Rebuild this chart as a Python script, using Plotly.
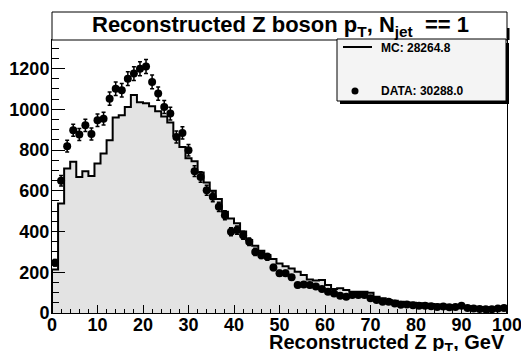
import numpy as np
import plotly.graph_objects as go

# Histogram binning (GeV)
X_MIN, X_MAX, N_BINS = 0.0, 100.0, 75

# Simulated Z pT spectrum (events per bin)
mc_counts = [214, 538, 709, 742, 668, 696, 672, 734, 783, 848, 959, 971, 1011, 1070,
             1035, 1030, 1015, 990, 965, 935, 870, 815, 760, 745, 690, 640, 600, 560,
             497, 464, 440, 400, 358, 330, 305, 285, 265, 243, 230, 219, 203, 186,
             165, 160, 162, 137, 118, 121, 113, 104, 104, 104, 99, 80, 72, 64, 60, 55,
             52, 50, 48, 46, 44, 42, 40, 38, 36, 35, 33, 31, 30, 28, 27, 26, 25]

# Observed Z pT spectrum (events per bin)
data_counts = [247, 649, 819, 897, 876, 921, 879, 946, 954, 1052, 1101, 1093, 1150, 1175,
               1199, 1210, 1134, 1077, 1011, 979, 864, 884, 799, 696, 668, 603, 570, 521,
               480, 399, 407, 382, 350, 300, 284, 276, 223, 195, 195, 175, 137, 140,
               137, 130, 118, 104, 96, 85, 80, 88, 88, 88, 72, 64, 55, 55, 47,
               40, 42, 38, 36, 35, 33, 30, 32, 28, 30, 36, 25, 22, 20, 18, 19, 22, 25]

legend_labels = ["MC: 28264.8", "DATA: 30288.0"]
x_ticks = [0, 10, 20, 30, 40, 50, 60, 70, 80, 90, 100]
y_ticks = [0, 200, 400, 600, 800, 1000, 1200]

title_text = "Reconstructed Z boson p<sub>T</sub>, N<sub>jet</sub>  == 1"
x_title = "Reconstructed Z p<sub>T</sub>, GeV"

FONT = "Liberation Sans, Arial, Helvetica, sans-serif"

# canvas geometry (pixels)
W, H = 521, 351
L, R, T, B = 52, 507, 40, 313


def px_x(px):
    return (px - L) / (R - L)


def px_y(py):
    return (B - py) / (B - T)


edges = np.linspace(X_MIN, X_MAX, N_BINS + 1)
centers = 0.5 * (edges[:-1] + edges[1:])
mc = np.asarray(mc_counts, dtype=float)
dat = np.asarray(data_counts, dtype=float)

# step outline closed down to the baseline at both ends
step_x = np.concatenate([[edges[0]], edges])
step_y = np.concatenate([[0.0], mc, [0.0]])

fig = go.Figure()
fig.add_trace(go.Scatter(
    x=step_x, y=step_y, mode="lines", line=dict(shape="hv", color="black", width=2),
    fill="tozeroy", fillcolor="#e3e3e3", showlegend=False, hoverinfo="skip"))
fig.add_trace(go.Scatter(
    x=centers, y=dat, mode="markers",
    marker=dict(symbol="circle", size=8, color="black"),
    error_y=dict(type="sqrt", color="black", thickness=1.5, width=2),
    showlegend=False))

shapes = []
annotations = []

# title box
shapes.append(dict(type="rect", xref="paper", yref="paper", layer="above",
                   x0=px_x(506.5), x1=px_x(509.5), y0=px_y(40), y1=px_y(28),
                   fillcolor="black", line=dict(width=0)))
shapes.append(dict(type="rect", xref="paper", yref="paper", layer="above",
                   x0=px_x(52), x1=px_x(507), y0=px_y(40), y1=px_y(12),
                   fillcolor="white", line=dict(color="black", width=1)))
annotations.append(dict(xref="paper", yref="paper", x=px_x(280), y=px_y(26),
                        xanchor="center", yanchor="middle", showarrow=False,
                        text=title_text,
                        font=dict(family=FONT, size=22, color="black", weight="bold")))

# legend box with drop shadow
shapes.append(dict(type="rect", xref="paper", yref="paper", layer="above",
                   x0=px_x(340), x1=px_x(509), y0=px_y(104), y1=px_y(43),
                   fillcolor="black", line=dict(width=0)))
shapes.append(dict(type="rect", xref="paper", yref="paper", layer="above",
                   x0=px_x(337), x1=px_x(506), y0=px_y(101), y1=px_y(39),
                   fillcolor="#f4f4f4", line=dict(color="black", width=1)))
shapes.append(dict(type="line", xref="paper", yref="paper", layer="above",
                   x0=px_x(343), x1=px_x(372), y0=px_y(47), y1=px_y(47),
                   line=dict(color="black", width=2)))
shapes.append(dict(type="circle", xref="paper", yref="paper", layer="above",
                   x0=px_x(351.5), x1=px_x(358.5), y0=px_y(94.5), y1=px_y(87.5),
                   fillcolor="black", line=dict(color="black", width=0)))
for label, py in zip(legend_labels, [48, 91]):
    annotations.append(dict(xref="paper", yref="paper", x=px_x(379), y=px_y(py),
                            xanchor="left", yanchor="middle", showarrow=False,
                            text=label,
                            font=dict(family=FONT, size=12, color="black", weight="bold")))

# x-axis title, right aligned
annotations.append(dict(xref="paper", yref="paper", x=px_x(507), y=px_y(343),
                        xanchor="right", yanchor="middle", showarrow=False,
                        text=x_title,
                        font=dict(family=FONT, size=20, color="black", weight="bold")))

tick_font = dict(family=FONT, size=18, color="black", weight="bold")

fig.update_layout(
    width=W, height=H,
    margin=dict(l=L, r=W - R, t=T, b=H - B, pad=0, autoexpand=False),
    paper_bgcolor="white", plot_bgcolor="white",
    shapes=shapes, annotations=annotations,
    showlegend=False,
    xaxis=dict(range=[X_MIN, X_MAX], tickvals=x_ticks, ticks="inside", ticklen=8,
               tickwidth=1, tickcolor="black", showline=True, linecolor="black",
               linewidth=1, mirror=True, showgrid=False, zeroline=False,
               automargin=False,
               tickfont=tick_font, ticklabelstandoff=-5, ticklabeloverflow="allow",
               minor=dict(dtick=2, ticks="inside", ticklen=4, tickcolor="black",
                          tickwidth=1, showgrid=False)),
    yaxis=dict(range=[0, 1340], tickvals=y_ticks, ticks="inside", ticklen=13,
               tickwidth=1, tickcolor="black", showline=True, linecolor="black",
               linewidth=1, mirror=True, showgrid=False, zeroline=False,
               automargin=False,
               tickfont=tick_font, ticklabelstandoff=-2, ticklabeloverflow="allow",
               minor=dict(dtick=50, ticks="inside", ticklen=7, tickcolor="black",
                          tickwidth=1, showgrid=False)),
)

fig.write_html("out.html")
